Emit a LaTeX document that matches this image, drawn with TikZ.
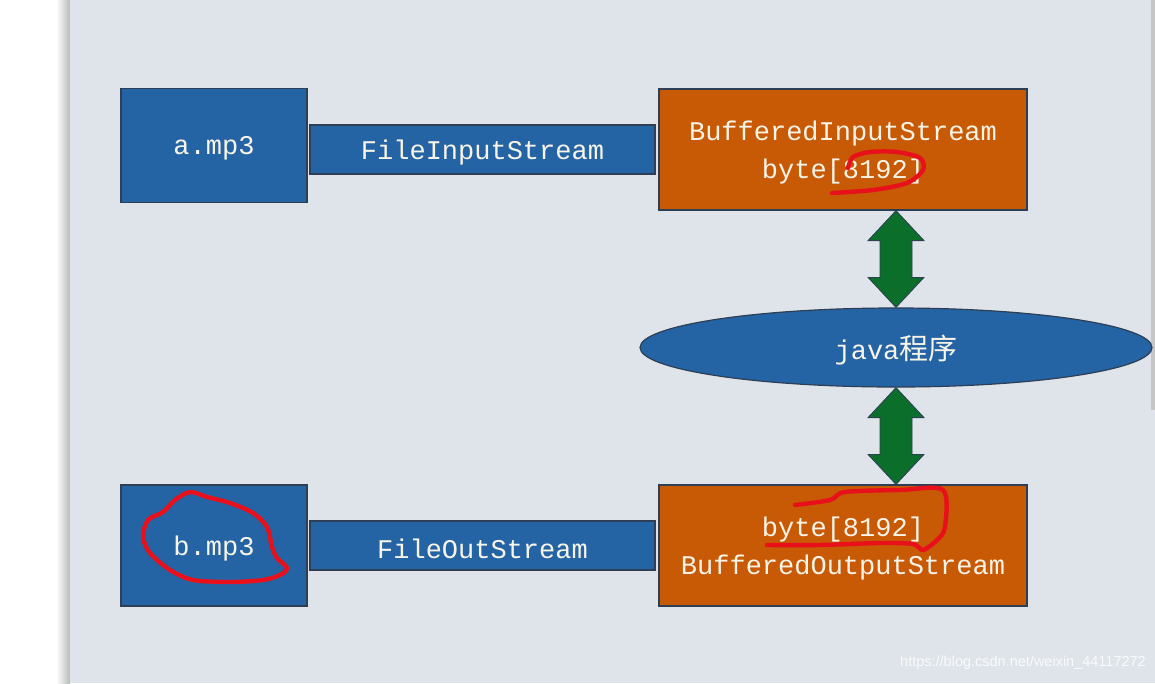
\documentclass[tikz,border=0pt]{standalone}
\usepackage{fontspec}
\usetikzlibrary{shapes.geometric,calc}
\newfontfamily\boxfont{Liberation Mono}
\newfontfamily\cjkfont{Noto Sans CJK SC}
\newfontfamily\wmfont{Liberation Sans}
\definecolor{slidebg}{HTML}{DEE4EA}
\definecolor{boxblue}{HTML}{2464A5}
\definecolor{boxorange}{HTML}{C85A05}
\definecolor{arrgreen}{HTML}{0B6E2A}
\definecolor{edgedark}{HTML}{2E3E55}
\definecolor{txtwhite}{HTML}{F8F4E8}
\definecolor{penred}{HTML}{E8101A}

% text set a little lower, keeping its box size
\newcommand\lowtext[1]{\raisebox{-3pt}[\height][\depth]{#1}}
% green two-headed block arrow from #1 (top) down to #2 (bottom)
\newcommand\greenarrow[2]{%
  \filldraw[dblarrow] (#1) -- ++(28,30) -- ++(-12,0) -- ($(#2)+(16,-30)$)
    -- ++(12,0) -- (#2) -- ++(-28,-30) -- ++(12,0) -- ($(#1)+(-16,30)$)
    -- ++(-12,0) -- cycle;}

\begin{document}
\begin{tikzpicture}[x=1pt,y=-1pt,
	filebox/.style={draw=edgedark,line width=1.2pt,fill=boxblue,text=txtwhite,
		inner sep=0pt,align=center,font=\boxfont\fontsize{27}{38}\selectfont},
	bufbox/.style={filebox,fill=boxorange,minimum width=368pt,minimum height=121pt},
	progell/.style={filebox,ellipse,minimum width=512pt,minimum height=79pt},
	dblarrow/.style={fill=arrgreen,draw=edgedark,line width=0.8pt,line join=miter},
	redmark/.style={draw=penred,line width=4.4pt,line cap=round,line join=round},
	wmark/.style={text=white,opacity=0.85,inner sep=0pt,font=\wmfont\fontsize{14.5}{16}\selectfont}]
	% slide background
	\fill[white] (0,0) rectangle (1155,683);
	\shade[left color=white,right color=gray!55] (56,0) rectangle (70,683);
	\fill[slidebg] (70,0) rectangle (1155,683);
	\fill[gray!45] (1151,0) rectangle (1155,410);
	\useasboundingbox (0,0) rectangle (1155,683);

	% input side
	\node[filebox,minimum width=186pt,minimum height=114pt] (amp3) at (214,145.5) {\lowtext{a.mp3}};
	\node[filebox,minimum width=345pt,minimum height=49pt] (fis) at (482.5,149.5) {\lowtext{FileInputStream}};
	\node[bufbox] (bis) at (843,149.5) {\lowtext{BufferedInputStream}\\\lowtext{byte[8192]}};

	% program
	\node[progell] (java) at (896,347.5) {\lowtext{java{\cjkfont\fontsize{29}{29}\selectfont 程序}}};

	% output side
	\node[filebox,minimum width=186pt,minimum height=121pt] (bmp3) at (214,545.5) {\lowtext{b.mp3}};
	\node[filebox,minimum width=345pt,minimum height=49pt] (fos) at (482.5,545.5) {\lowtext{FileOutStream}};
	\node[bufbox] (bos) at (843,545.5) {\lowtext{byte[8192]}\\\lowtext{BufferedOutputStream}};

	\coordinate (up1) at (java.north |- bis.south);
	\coordinate (dn2) at (java.south |- bos.north);
	\greenarrow{up1}{java.north}
	\greenarrow{java.south}{dn2}

	% pen marks
	\draw[redmark] plot[smooth] coordinates {(832,193) (873,190) (907,183) (923,170)
		(920,158) (897,152) (870,152) (853,157) (848,168)};
	\draw[redmark] plot[smooth cycle] coordinates {(190,492) (207,497) (230,503) (253,513)
		(267,527) (272,547) (277,558) (287,568) (280,575) (263,580) (230,582) (193,580)
		(170,570) (150,553) (143,537) (148,520) (163,512) (175,500)};
	\draw[redmark] plot[smooth] coordinates {(795,505) (830,500) (845,492) (900,490) (943,490)
		(945,527) (937,540) (923,550) (913,544) (880,543) (820,545) (767,545)};

	\node[wmark,anchor=east] (wm) at (1146,663) {https://blog.csdn.net/weixin\_44117272};
\end{tikzpicture}
\end{document}
